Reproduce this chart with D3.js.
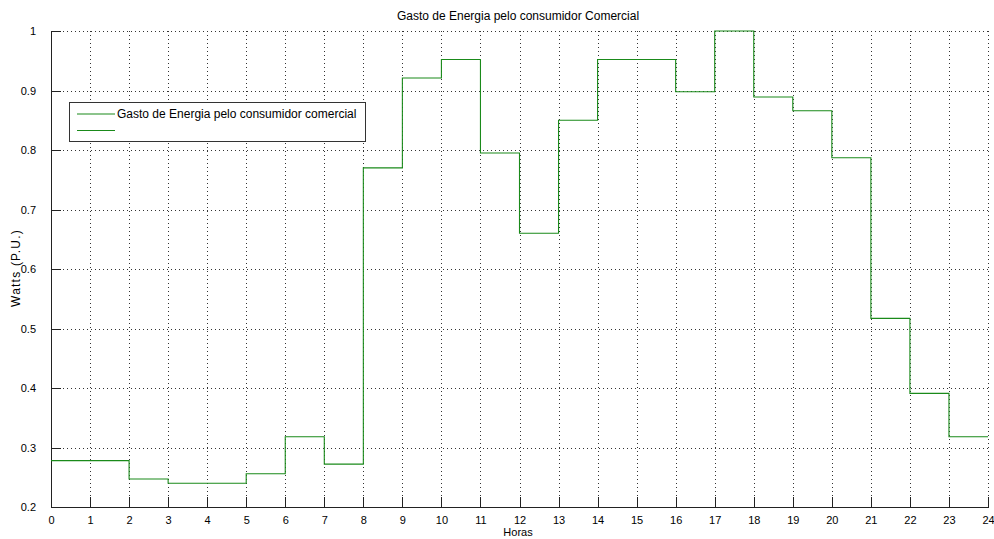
<!DOCTYPE html>
<html>
<head>
<meta charset="utf-8">
<script src="https://cdn.jsdelivr.net/npm/d3@7/dist/d3.min.js"></script>
<style>
  html, body { margin: 0; padding: 0; background: #fff; }
  svg { display: block; font-family: "Liberation Sans", Arial, Helvetica, sans-serif; }
</style>
</head>
<body>
<svg id="chart" width="994" height="539"></svg>
<script>
// Hourly start times and the energy use (per unit) held through each hour
const hours = [0, 1, 2, 3, 4, 5, 6, 7, 8, 9, 10, 11, 12, 13, 14, 15, 16, 17, 18, 19, 20, 21, 22, 23];
const consumo = [0.278, 0.278, 0.247, 0.240, 0.240, 0.256, 0.318, 0.272, 0.770, 0.921, 0.952, 0.795,
                 0.660, 0.850, 0.952, 0.952, 0.898, 1.000, 0.889, 0.866, 0.787, 0.517, 0.391, 0.318];
const xTicks = d3.range(0, 25);
const yTicks = [0.2, 0.3, 0.4, 0.5, 0.6, 0.7, 0.8, 0.9, 1];

const titulo = "Gasto de Energia pelo consumidor Comercial";
const legenda = ["Gasto de Energia pelo consumidor comercial", ""];
const xLabel = "Horas";
const yLabel = "Watts (P.U.)";

const svg = d3.select("#chart");
const m = { left: 51, right: 988, top: 31, bottom: 507 };
const green = "#1a8a1a";

const x = d3.scaleLinear().domain([0, 24]).range([m.left, m.right]);
const y = d3.scaleLinear().domain([0.2, 1]).range([m.bottom, m.top]);

// dotted grid
const grid = svg.append("g").attr("stroke", "#333").attr("stroke-width", 1)
  .attr("stroke-dasharray", "1,3").attr("shape-rendering", "crispEdges");
grid.selectAll("line.v").data(xTicks.filter(d => d > 0)).join("line")
  .attr("x1", d => Math.round(x(d)) + 0.5).attr("x2", d => Math.round(x(d)) + 0.5)
  .attr("y1", m.top).attr("y2", m.bottom);
grid.selectAll("line.h").data(yTicks.filter(d => d > 0.2)).join("line")
  .attr("y1", d => Math.round(y(d)) + 0.5).attr("y2", d => Math.round(y(d)) + 0.5)
  .attr("x1", m.left).attr("x2", m.right);

// axes with inward ticks
const xAxis = d3.axisBottom(x).tickValues(xTicks).tickFormat(d3.format("d"))
  .tickSizeInner(-10).tickSizeOuter(0).tickPadding(14);
const yAxis = d3.axisLeft(y).tickValues(yTicks).tickFormat(d => d === 1 ? "1" : d3.format(".1f")(d))
  .tickSizeInner(-10).tickSizeOuter(0).tickPadding(15);

const gx = svg.append("g").attr("transform", `translate(0,${m.bottom})`).call(xAxis);
const gy = svg.append("g").attr("transform", `translate(${m.left},0)`).call(yAxis);
[gx, gy].forEach(g => {
  g.select(".domain").attr("stroke", "#222").attr("shape-rendering", "crispEdges");
  g.selectAll(".tick line").attr("stroke", "#222").attr("shape-rendering", "crispEdges");
  g.selectAll(".tick text").attr("fill", "#000").attr("font-size", 11)
    .attr("font-family", "'Liberation Sans', Arial, sans-serif");
});
gx.selectAll(".tick text").attr("dy", "0.3em");

// step line
const pts = hours.map((h, i) => [h, consumo[i]]);
pts.push([24, consumo[consumo.length - 1]]);
const line = d3.line().x(d => x(d[0])).y(d => y(d[1])).curve(d3.curveStepAfter);
svg.append("path").datum(pts).attr("d", line)
  .attr("fill", "none").attr("stroke", green).attr("stroke-width", 1.1);

// labels
svg.append("text").attr("x", 518).attr("y", 20).attr("text-anchor", "middle")
  .attr("font-size", 12).text(titulo);
svg.append("text").attr("x", 518).attr("y", 536).attr("text-anchor", "middle")
  .attr("font-size", 11).text(xLabel);
svg.append("text").attr("transform", "translate(20,268) rotate(-90)").attr("text-anchor", "middle")
  .attr("font-size", 12).attr("letter-spacing", 1.2).text(yLabel);

// legend
const lg = svg.append("g");
lg.append("rect").attr("x", 69.5).attr("y", 102.5).attr("width", 296).attr("height", 39)
  .attr("fill", "#fff").attr("stroke", "#333").attr("stroke-width", 1);
legenda.forEach((t, i) => {
  const ly = 114 + i * 16.5;
  lg.append("line").attr("x1", 77).attr("x2", 115).attr("y1", ly).attr("y2", ly)
    .attr("stroke", green).attr("stroke-width", 1.1);
  lg.append("text").attr("x", 117).attr("y", ly + 4).attr("font-size", 12).text(t);
});
</script>
</body>
</html>
